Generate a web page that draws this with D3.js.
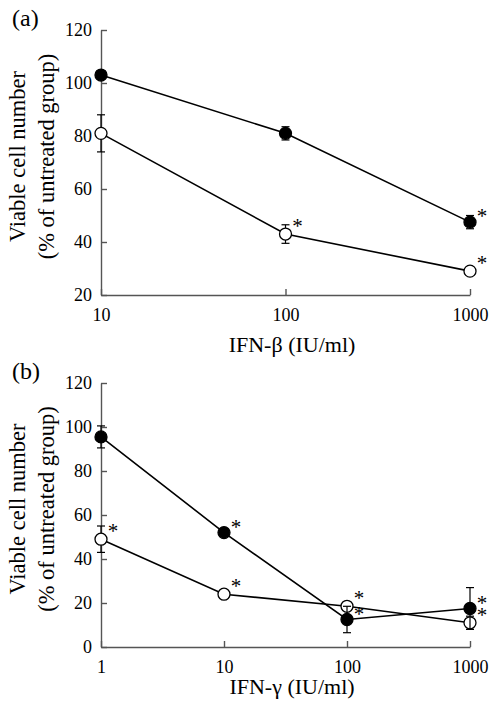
<!DOCTYPE html>
<html>
<head>
<meta charset="utf-8">
<script src="https://cdn.jsdelivr.net/npm/d3@7"></script>
<style>
  body { margin: 0; background: #fff; }
  svg text { font-family: "Liberation Serif", "Times New Roman", serif; fill: #000; }
</style>
</head>
<body>
<div id="chart"></div>
<script>
// panel (a) - IFN-beta
const doseA = [10, 100, 1000];
const filledA = [103, 81, 47.5];
const filledErrA = [1.5, 2.5, 2.5];
const openA = [81, 43, 29];
const openErrA = [7, 3.5, 1.5];
const filledStarA = [false, false, true];
const openStarA = [false, true, true];
const yTicksA = [20, 40, 60, 80, 100, 120];
const xTicksA = [10, 100, 1000];

// panel (b) - IFN-gamma
const doseB = [1, 10, 100, 1000];
const filledB = [95.5, 52, 12.5, 17.5];
const filledErrB = [5, 1.5, 6, 9.5];
const openB = [49, 24, 18.5, 11];
const openErrB = [6, 1, 1, 3];
const filledStarB = [false, true, true, true];
const openStarB = [true, true, true, true];
const yTicksB = [0, 20, 40, 60, 80, 100, 120];
const xTicksB = [1, 10, 100, 1000];

const W = 491, H = 707;
const svg = d3.select('#chart').append('svg')
  .attr('width', W)
  .attr('height', H)
  .attr('font-family', '"Liberation Serif", "Times New Roman", serif');

function panel(opt) {
  const g = svg.append('g');
  const x = d3.scaleLog().domain(opt.xDomain).range([101, 470]);
  const y = d3.scaleLinear().domain(opt.yDomain).range([opt.bottom, opt.top]);

  // both axes have ticks pointing into the plot
  const yAx = g.append('g')
    .attr('transform', 'translate(101,0)')
    .call(d3.axisLeft(y).tickValues(opt.yTicks).tickSizeInner(-6).tickSizeOuter(0).tickPadding(9).tickFormat(d3.format('d')));
  const xAx = g.append('g')
    .attr('transform', `translate(0,${opt.bottom})`)
    .call(d3.axisBottom(x).tickValues(opt.xTicks).tickSizeInner(-6).tickSizeOuter(0).tickPadding(13).tickFormat(d3.format('d')));
  [yAx, xAx].forEach(a => {
    a.attr('font-family', null);
    a.select('.domain').attr('stroke', '#555').attr('stroke-width', 1.4);
    a.selectAll('.tick line').attr('stroke', '#555').attr('stroke-width', 1.4);
    a.selectAll('.tick text').style('font-size', '18px').attr('fill', '#000');
  });

  // labels
  g.append('text')
    .attr('x', 292).attr('y', opt.bottom + opt.labelGap)
    .attr('text-anchor', 'middle')
    .style('font-size', '22px')
    .text(opt.xLabel);
  const cy = (opt.top + opt.bottom) / 2 - 6;
  g.append('text')
    .attr('transform', `translate(25,${cy}) rotate(-90)`)
    .attr('text-anchor', 'middle')
    .style('font-size', '22.5px')
    .text('Viable cell number');
  g.append('text')
    .attr('transform', `translate(54,${cy}) rotate(-90)`)
    .attr('text-anchor', 'middle')
    .style('font-size', '22.5px')
    .text('(% of untreated group)');
  g.append('text')
    .attr('x', 12).attr('y', opt.top - 4)
    .style('font-size', '24px')
    .text(opt.tag);

  const line = d3.line().x(d => x(d.dose)).y(d => y(d.v));

  function series(vals, errs, stars, filled) {
    const pts = opt.dose.map((dose, i) => ({dose, v: vals[i], e: errs[i], star: stars[i]}));
    // error bars
    pts.forEach(p => {
      const cap = 4;
      const px = x(p.dose);
      g.append('line')
        .attr('x1', px).attr('x2', px)
        .attr('y1', y(p.v - p.e)).attr('y2', y(p.v + p.e))
        .attr('stroke', '#000').attr('stroke-width', 1.2);
      [p.v - p.e, p.v + p.e].forEach(v => {
        g.append('line')
          .attr('x1', px - cap).attr('x2', px + cap)
          .attr('y1', y(v)).attr('y2', y(v))
          .attr('stroke', '#000').attr('stroke-width', 1.2);
      });
    });
    g.append('path')
      .datum(pts)
      .attr('d', line)
      .attr('fill', 'none')
      .attr('stroke', '#000')
      .attr('stroke-width', 1.6);
    g.selectAll(null)
      .data(pts)
      .enter()
      .append('circle')
      .attr('cx', d => x(d.dose))
      .attr('cy', d => y(d.v))
      .attr('r', 6)
      .attr('fill', filled ? '#000' : '#fff')
      .attr('stroke', '#000')
      .attr('stroke-width', 1.3);
    g.selectAll(null)
      .data(pts.filter(p => p.star))
      .enter()
      .append('text')
      .attr('x', d => x(d.dose) + 12)
      .attr('y', d => y(d.v) + (filled ? 1 : -1))
      .attr('text-anchor', 'middle')
      .style('font-size', '21px')
      .text('*');
  }

  series(opt.open, opt.openErr, opt.openStar, false);
  series(opt.filled, opt.filledErr, opt.filledStar, true);
}

panel({
  tag: '(a)', xLabel: 'IFN-β (IU/ml)', labelGap: 57,
  dose: doseA, xDomain: [10, 1000], yDomain: [20, 120],
  top: 30, bottom: 295,
  yTicks: yTicksA, xTicks: xTicksA,
  filled: filledA, filledErr: filledErrA, filledStar: filledStarA,
  open: openA, openErr: openErrA, openStar: openStarA
});

panel({
  tag: '(b)', xLabel: 'IFN-γ (IU/ml)', labelGap: 47,
  dose: doseB, xDomain: [1, 1000], yDomain: [0, 120],
  top: 383, bottom: 647,
  yTicks: yTicksB, xTicks: xTicksB,
  filled: filledB, filledErr: filledErrB, filledStar: filledStarB,
  open: openB, openErr: openErrB, openStar: openStarB
});
</script>
</body>
</html>
